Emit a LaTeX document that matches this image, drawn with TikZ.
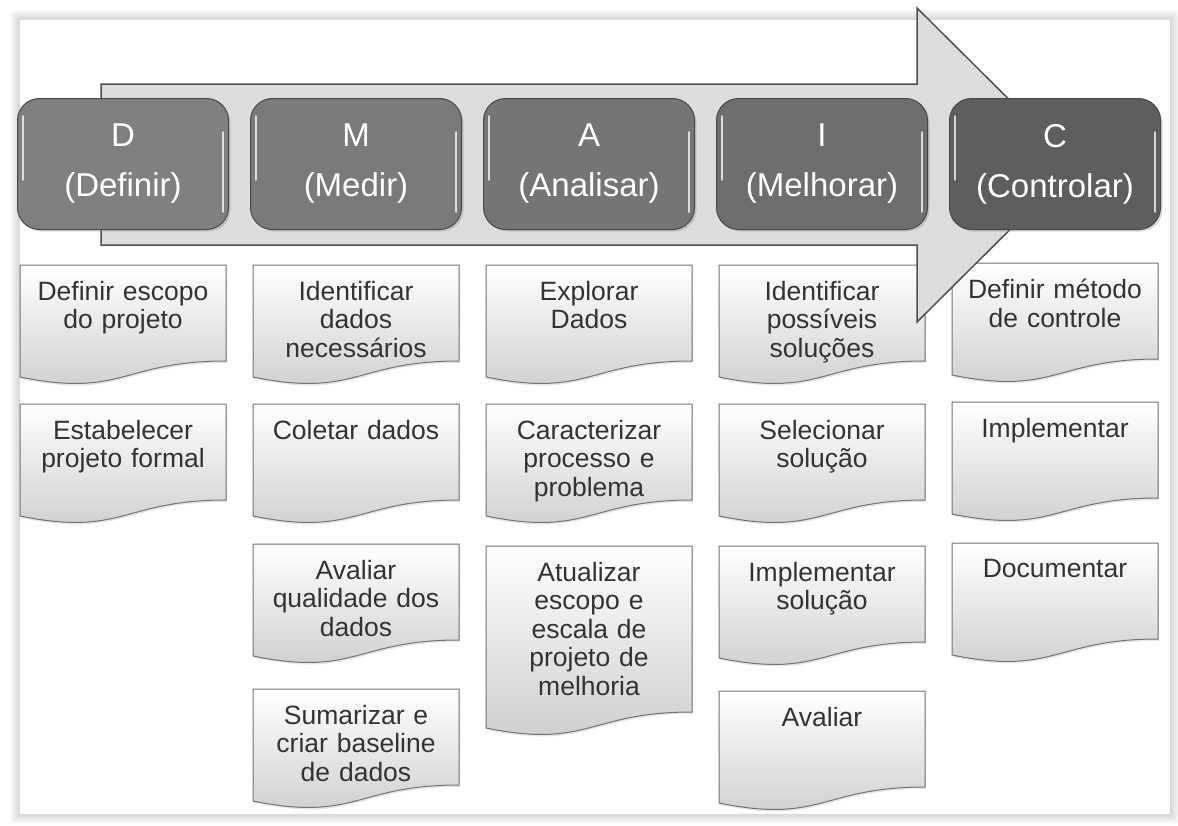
\documentclass[tikz,border=0pt]{standalone}
\usepackage{fontspec}
\setmainfont{Liberation Sans}
\usetikzlibrary{shadows}
\definecolor{arrowfill}{HTML}{DCDCDC}
\definecolor{arrowline}{HTML}{4F4F4F}
\definecolor{doctxt}{HTML}{333333}

\tikzset{
  hdr/.style={rounded corners=22pt, draw=black!72, line width=1pt, text=white,
    minimum width=211pt, minimum height=131pt, inner sep=0pt, align=center,
    font=\fontsize{33}{50}\selectfont,
    drop shadow={opacity=.3, shadow xshift=2pt, shadow yshift=-2pt}},
  gloss/.style={white, opacity=.75, line width=1.6pt, line cap=round},
  docshape/.style={draw=black!55, line width=1pt, top color=white, bottom color=black!20,
    drop shadow={opacity=.2, shadow xshift=1pt, shadow yshift=-2pt}},
  doctext/.style={anchor=north, inner sep=0pt, text width=204pt, align=center,
    text=doctxt, font=\fontsize{26.5}{28.5}\selectfont}
}

% document shape: name, left, top, text; optional flat height
\newcommand{\docbox}[5][96]{%
  \path[docshape] (#3,#4) -- (#3+206,#4) -- (#3+206,#4+#1)
    .. controls (#3+103,#4+#1) and (#3+103,#4+#1+37) .. (#3,#4+#1+16) -- cycle;
  \node[doctext] (#2) at (#3+103,#4+16) {#5};
}

\begin{document}
\begin{tikzpicture}[x=1pt,y=-1pt]
  \useasboundingbox (0,0) rectangle (1178,825);
  % panel with soft edge
  \foreach \w in {2,4,...,20}
    \draw[black, opacity=.017, line width=\w pt] (20,20) rectangle (1170,814);
  \fill[white] (20,20) rectangle (1170,814);

  % D
  \docbox{def1}{20}{265}{Definir escopo\\do projeto}
  \docbox{def2}{20}{404}{Estabelecer\\projeto formal}
  % M
  \docbox{med1}{253}{265}{Identificar\\dados\\necessários}
  \docbox{med2}{253}{404}{Coletar dados}
  \docbox{med3}{253}{544}{Avaliar\\qualidade dos\\dados}
  \docbox{med4}{253}{689}{Sumarizar e\\criar baseline\\de dados}
  % A
  \docbox{ana1}{486}{265}{Explorar\\Dados}
  \docbox{ana2}{486}{404}{Caracterizar\\processo e\\problema}
  \docbox[166]{ana3}{486}{546}{Atualizar\\escopo e\\escala de\\projeto de\\melhoria}
  % I
  \docbox{mel1}{719}{265}{Identificar\\possíveis\\soluções}
  \docbox{mel2}{719}{404}{Selecionar\\solução}
  \docbox{mel3}{719}{546}{Implementar\\solução}
  \docbox{mel4}{719}{691}{Avaliar}
  % C
  \docbox{ctl1}{952}{263}{Definir método\\de controle}
  \docbox{ctl2}{952}{402}{Implementar}
  \docbox{ctl3}{952}{543}{Documentar}

  % big arrow
  \draw[fill=arrowfill, draw=arrowline, line width=1.5pt, line join=miter]
    (101,84) -- (917,84) -- (917,8) -- (1075,165) -- (917,322) -- (917,245) -- (101,245) -- cycle;

  % phases
  \node[hdr, fill=black!50] (def) at (123,164) {D\\(Definir)};
  \node[hdr, fill=black!52] (med) at (356,164) {M\\(Medir)};
  \node[hdr, fill=black!54] (ana) at (589,164) {A\\(Analisar)};
  \node[hdr, fill=black!57] (mel) at (822,164) {I\\(Melhorar)};
  \node[hdr, fill=black!63] (ctl) at (1055,164) {C\\(Controlar)};
  \foreach \n in {def,med,ana,mel,ctl} {
    \draw[gloss] ([xshift=6pt,yshift=-18pt]\n.north west) -- ([xshift=6pt,yshift=50pt]\n.south west);
    \draw[gloss] ([xshift=-6pt,yshift=-34pt]\n.north east) -- ([xshift=-6pt,yshift=18pt]\n.south east);
  }
\end{tikzpicture}
\end{document}
